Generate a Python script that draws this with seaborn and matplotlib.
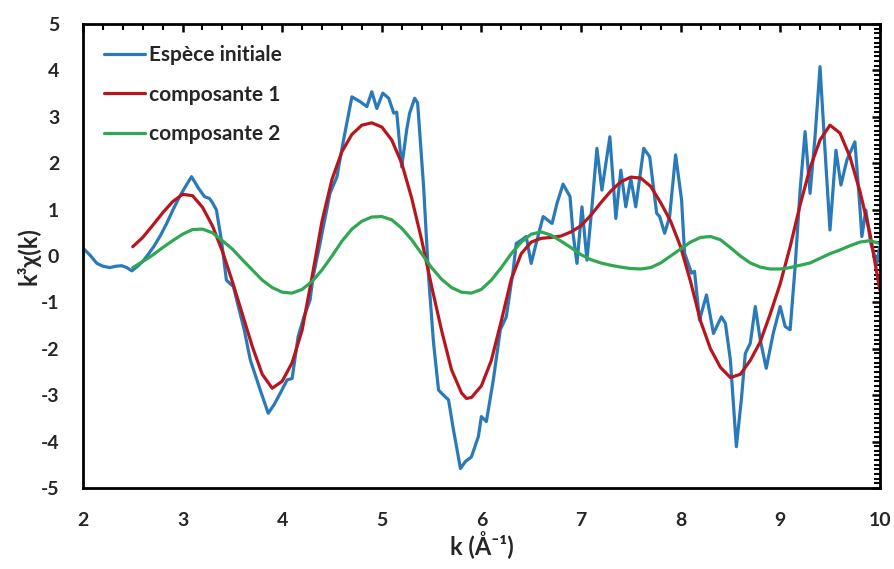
import numpy as np
import pandas as pd
import matplotlib
matplotlib.use("Agg")
import matplotlib.pyplot as plt
from matplotlib.ticker import MultipleLocator
import seaborn as sns

# Espèce initiale (noisy experimental curve)
k_init = [2.00, 2.07, 2.14, 2.20, 2.27, 2.33, 2.39, 2.44, 2.49, 2.55, 2.61, 2.66, 2.71, 2.78, 2.84,
          2.90, 2.97, 3.03, 3.09, 3.16, 3.22, 3.27, 3.30, 3.34, 3.39, 3.44, 3.51, 3.56, 3.62, 3.68,
          3.78, 3.86, 3.92, 3.98, 4.05, 4.10, 4.16, 4.22, 4.28, 4.31, 4.38, 4.48, 4.55, 4.61, 4.70,
          4.78, 4.85, 4.90, 4.95, 5.01, 5.07, 5.12, 5.15, 5.20, 5.25, 5.28, 5.33, 5.36, 5.42, 5.47,
          5.52, 5.57, 5.62, 5.67, 5.72, 5.79, 5.84, 5.90, 5.97, 6.00, 6.05, 6.12, 6.19, 6.25, 6.32,
          6.35, 6.40, 6.45, 6.50, 6.55, 6.62, 6.71, 6.76, 6.82, 6.89, 6.92, 6.96, 7.01, 7.06, 7.11,
          7.16, 7.21, 7.29, 7.35, 7.40, 7.45, 7.50, 7.55, 7.63, 7.69, 7.76, 7.79, 7.84, 7.89, 7.95,
          8.01, 8.04, 8.11, 8.14, 8.19, 8.26, 8.33, 8.41, 8.45, 8.50, 8.56, 8.61, 8.65, 8.70, 8.75,
          8.80, 8.86, 8.93, 9.00, 9.05, 9.10, 9.15, 9.20, 9.25, 9.30, 9.35, 9.40, 9.45, 9.50, 9.56,
          9.61, 9.67, 9.75, 9.80, 9.82, 9.86, 9.91, 9.97, 10.00]
chi_init = [0.17, 0.02, -0.16, -0.22, -0.25, -0.22, -0.21, -0.25, -0.32, -0.22, -0.09, 0.05, 0.20, 0.45, 0.70,
            0.98, 1.28, 1.50, 1.71, 1.46, 1.28, 1.24, 1.15, 0.99, 0.34, -0.52, -0.66, -1.09, -1.60, -2.24,
            -2.89, -3.39, -3.20, -2.96, -2.67, -2.64, -1.74, -1.30, -0.95, -0.45, 0.27, 1.35, 1.71, 2.43, 3.43,
            3.33, 3.22, 3.54, 3.18, 3.51, 3.40, 3.08, 3.10, 1.92, 2.72, 3.08, 3.40, 3.30, 1.49, -0.45,
            -1.88, -2.89, -3.00, -3.10, -3.75, -4.58, -4.43, -4.33, -3.89, -3.46, -3.57, -2.67, -1.59, -1.31, -0.30,
            0.27, 0.34, 0.42, -0.16, 0.27, 0.85, 0.70, 1.14, 1.55, 1.28, 0.49, -0.16, 1.06, -0.09, 1.06,
            2.32, 1.42, 2.57, 0.81, 1.85, 1.06, 1.67, 1.06, 2.32, 2.14, 0.92, 0.85, 0.49, 0.85, 2.18,
            1.21, 0.06, -0.37, -0.33, -1.38, -0.84, -1.67, -1.31, -1.45, -2.24, -4.11, -3.10, -2.10, -1.88, -1.09,
            -1.81, -2.42, -1.67, -1.09, -1.52, -1.59, -0.23, 1.42, 2.68, 1.35, 2.57, 4.08, 2.28, 0.56, 2.28,
            1.53, 2.07, 2.46, 1.06, 0.42, 0.99, 0.27, -0.16, 0.20]

# composante 1
k_c1 = [2.50, 2.60, 2.70, 2.80, 2.90, 3.00, 3.10, 3.20, 3.30, 3.40, 3.50, 3.60, 3.70, 3.80, 3.90,
        4.00, 4.10, 4.20, 4.30, 4.40, 4.50, 4.60, 4.70, 4.80, 4.90, 5.00, 5.10, 5.20, 5.30, 5.40,
        5.50, 5.60, 5.70, 5.80, 5.85, 5.90, 6.00, 6.10, 6.20, 6.30, 6.40, 6.50, 6.60, 6.70, 6.80,
        6.90, 7.00, 7.10, 7.20, 7.30, 7.40, 7.50, 7.60, 7.70, 7.80, 7.90, 8.00, 8.10, 8.20, 8.30,
        8.40, 8.50, 8.60, 8.70, 8.80, 8.90, 9.00, 9.10, 9.20, 9.30, 9.40, 9.50, 9.60, 9.70, 9.80,
        9.90, 10.00]
chi_c1 = [0.20, 0.40, 0.66, 0.93, 1.17, 1.33, 1.30, 1.05, 0.65, 0.10, -0.55, -1.25, -1.95, -2.55, -2.85,
          -2.70, -2.30, -1.60, -0.45, 0.75, 1.65, 2.25, 2.62, 2.82, 2.87, 2.78, 2.50, 2.00, 1.25, 0.35,
          -0.65, -1.60, -2.45, -2.95, -3.07, -3.05, -2.80, -2.25, -1.40, -0.50, 0.05, 0.30, 0.38, 0.40, 0.43,
          0.52, 0.65, 0.88, 1.15, 1.40, 1.60, 1.70, 1.68, 1.50, 1.15, 0.75, 0.20, -0.55, -1.40, -2.00,
          -2.40, -2.62, -2.55, -2.25, -1.85, -1.25, -0.60, 0.20, 1.10, 1.90, 2.50, 2.82, 2.65, 2.14, 1.40,
          0.50, -0.73]

# composante 2
k_c2 = [2.5, 2.6, 2.7, 2.8, 2.9, 3.0, 3.1, 3.2, 3.3, 3.4, 3.5, 3.6, 3.7, 3.8, 3.9, 4.0,
        4.1, 4.2, 4.3, 4.4, 4.5, 4.6, 4.7, 4.8, 4.9, 5.0, 5.1, 5.2, 5.3, 5.4, 5.5, 5.6,
        5.7, 5.8, 5.9, 6.0, 6.1, 6.2, 6.3, 6.4, 6.5, 6.6, 6.7, 6.8, 6.9, 7.0, 7.1, 7.2,
        7.3, 7.4, 7.5, 7.6, 7.7, 7.8, 7.9, 8.0, 8.1, 8.2, 8.3, 8.4, 8.5, 8.6, 8.7, 8.8,
        8.9, 9.0, 9.1, 9.2, 9.3, 9.4, 9.5, 9.6, 9.7, 9.8, 9.9, 10.0]
chi_c2 = [-0.25, -0.12, 0.02, 0.18, 0.33, 0.47, 0.57, 0.58, 0.50, 0.33, 0.15, -0.08, -0.30, -0.52, -0.68, -0.78,
          -0.80, -0.72, -0.55, -0.30, 0.00, 0.32, 0.58, 0.75, 0.84, 0.85, 0.78, 0.60, 0.35, 0.05, -0.25, -0.50,
          -0.68, -0.78, -0.80, -0.72, -0.52, -0.25, 0.05, 0.30, 0.47, 0.52, 0.45, 0.32, 0.18, 0.03, -0.08, -0.15,
          -0.20, -0.24, -0.27, -0.28, -0.25, -0.15, 0.00, 0.15, 0.30, 0.40, 0.42, 0.35, 0.18, 0.00, -0.15, -0.24,
          -0.28, -0.28, -0.25, -0.20, -0.15, -0.05, 0.05, 0.13, 0.22, 0.30, 0.33, 0.27]

labels = ["Espèce initiale", "composante 1", "composante 2"]
colors = ["#2a7ab9", "#b8161f", "#2fa753"]

sns.set_theme(style="white")
plt.rcParams["font.family"] = ["Lato", "DejaVu Sans"]
plt.rcParams["font.weight"] = "bold"
plt.rcParams["axes.unicode_minus"] = False

fig = plt.figure(figsize=(8.95, 5.69), dpi=100)
ax = fig.add_axes([0.0927, 0.1424, 0.8903, 0.8154])

series = [(k_init, chi_init), (k_c1, chi_c1), (k_c2, chi_c2)]
for (kx, cy), lab, col in zip(series, labels, colors):
    df = pd.DataFrame({"k": kx, "chi": cy})
    sns.lineplot(data=df, x="k", y="chi", ax=ax, color=col, linewidth=2.3,
                 label=lab, sort=False, estimator=None)

ax.set_xlim(2, 10)
ax.set_ylim(-5, 5)
ax.xaxis.set_major_locator(MultipleLocator(1))
ax.xaxis.set_minor_locator(MultipleLocator(0.2))
ax.yaxis.set_major_locator(MultipleLocator(1))
ax.yaxis.set_minor_locator(MultipleLocator(0.1))
ax.tick_params(which="both", direction="in", top=True, right=True, color="black")
ax.tick_params(which="major", length=6, width=1.8, labelsize=14)
ax.tick_params(axis="x", which="major", pad=17)
ax.tick_params(axis="y", which="major", pad=17)
ax.tick_params(which="minor", length=4, width=1.5)
for lbl in ax.get_xticklabels() + ax.get_yticklabels():
    lbl.set_fontweight("bold")
for sp in ax.spines.values():
    sp.set_color("black")
    sp.set_linewidth(2)

ax.set_xlabel("k (Å⁻¹)", fontsize=17, fontweight="bold", labelpad=2)
ax.set_ylabel("k³χ(k)", fontsize=17, fontweight="bold", labelpad=0)

leg = ax.legend(loc="upper left", frameon=False, fontsize=15, handlelength=2.0,
                handletextpad=0.15, labelspacing=0.95, borderaxespad=0.6)
for t in leg.get_texts():
    t.set_fontweight("bold")

fig.savefig("out.png", dpi=100)
